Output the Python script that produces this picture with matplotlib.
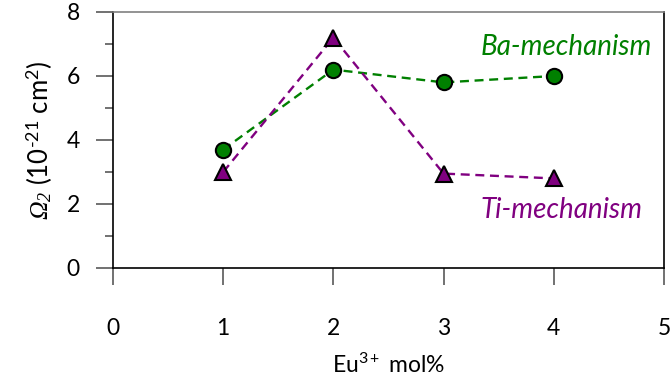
import matplotlib
matplotlib.use("Agg")
import matplotlib.pyplot as plt
from matplotlib.ticker import MultipleLocator

plt.rcParams['font.family'] = ['Lato', 'DejaVu Sans']
plt.rcParams['mathtext.fontset'] = 'custom'
plt.rcParams['mathtext.rm'] = 'Lato'
plt.rcParams['mathtext.it'] = 'Lato:italic'
# slanted serif face used for the Omega symbol
plt.rcParams['mathtext.sf'] = 'Liberation Serif:italic'

# Eu3+ concentration (mol%) and Judd-Ofelt Omega_2 values
eu_mol = [1, 2, 3, 4]
ba_omega2 = [3.7, 6.2, 5.8, 6.0]
ti_omega2 = [3.0, 7.2, 2.95, 2.8]

ba_color = '#008000'
ti_color = '#800080'

fig = plt.figure(figsize=(6.71, 3.76), dpi=100)
ax = fig.add_axes([113 / 671, 1 - 268 / 376, (664 - 113) / 671, (268 - 12) / 376])

ax.plot(eu_mol, ba_omega2, color=ba_color, lw=1.7, dashes=(3.8, 2.4),
        marker='o', markersize=11, markerfacecolor=ba_color,
        markeredgecolor='black', markeredgewidth=1.5, zorder=3)
ax.plot(eu_mol, ti_omega2, color=ti_color, lw=1.7, dashes=(3.8, 2.4),
        marker='^', markersize=11, markerfacecolor=ti_color,
        markeredgecolor='black', markeredgewidth=1.5, zorder=3)

ax.text(4.11, 6.9, 'Ba-mechanism', color=ba_color, fontsize=20,
        style='italic', ha='center', va='center')
ax.text(4.07, 1.8, 'Ti-mechanism', color=ti_color, fontsize=20,
        style='italic', ha='center', va='center')

ax.set_xlim(0, 5)
ax.set_ylim(0, 8)
ax.xaxis.set_major_locator(MultipleLocator(1))
ax.yaxis.set_major_locator(MultipleLocator(2))
ax.yaxis.set_minor_locator(MultipleLocator(1))

ax.tick_params(axis='both', which='major', direction='out', length=12,
               width=1.2, color='#595959', labelsize=16.5)
ax.tick_params(axis='y', which='minor', direction='out', length=6,
               width=1.2, color='#595959')
ax.tick_params(axis='x', which='major', pad=24)
ax.tick_params(axis='y', which='major', pad=12)

for side in ('left', 'bottom', 'right'):
    ax.spines[side].set_color('black')
    ax.spines[side].set_linewidth(1.2)
ax.spines['top'].set_color('#808080')
ax.spines['top'].set_linewidth(1.2)

ax.set_xlabel('Eu$^{3+}$ mol%', fontsize=16.5, labelpad=10)
ax.set_ylabel(r'$\mathsf{\Omega_2}$ (10$^{' + '\u2010' + r'21}$ cm$^2$)',
              fontsize=18.5, labelpad=8)

fig.savefig('out.png', dpi=100)
